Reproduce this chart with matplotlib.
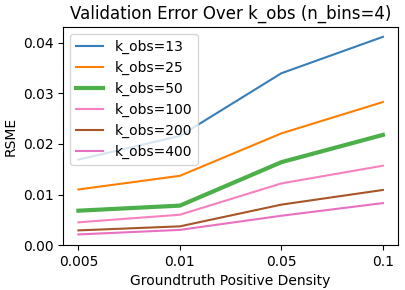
import matplotlib
matplotlib.use("Agg")
import matplotlib.pyplot as plt

# densities (categorical x axis)
densities = ["0.005", "0.01", "0.05", "0.1"]
k_obs = [13, 25, 50, 100, 200, 400]

rsme_13 = [0.0169, 0.0216, 0.0340, 0.0412]
rsme_25 = [0.0110, 0.0137, 0.0221, 0.0283]
rsme_50 = [0.0068, 0.0078, 0.0164, 0.0218]
rsme_100 = [0.0045, 0.0060, 0.0122, 0.0157]
rsme_200 = [0.0029, 0.0037, 0.0080, 0.0109]
rsme_400 = [0.0021, 0.0030, 0.0058, 0.0083]

all_rsme = [rsme_13, rsme_25, rsme_50, rsme_100, rsme_200, rsme_400]
colors = ["#377eb8", "#ff7f00", "#4daf4a", "#f781bf", "#a65628", "#e770c0"]
widths = [1.5, 1.5, 3, 1.5, 1.5, 1.5]

fig = plt.figure(figsize=(4.05, 2.9), dpi=100)
ax = fig.add_axes([0.156, 0.155, 0.827, 0.752])

x = list(range(len(densities)))
for k, vals, c, w in zip(k_obs, all_rsme, colors, widths):
    ax.plot(x, vals, color=c, linewidth=w, label="k_obs=" + str(k))

ax.set_xticks(x)
ax.set_xticklabels(densities)
ax.set_ylim(bottom=0)
ax.tick_params(labelsize=10)
ax.set_xlabel("Groundtruth Positive Density", fontsize=10)
ax.set_ylabel("RSME", fontsize=10)
ax.set_title("Validation Error Over k_obs (n_bins=4)", fontsize=12)
ax.legend(loc="upper left", fontsize=10)

fig.savefig("out.png")
